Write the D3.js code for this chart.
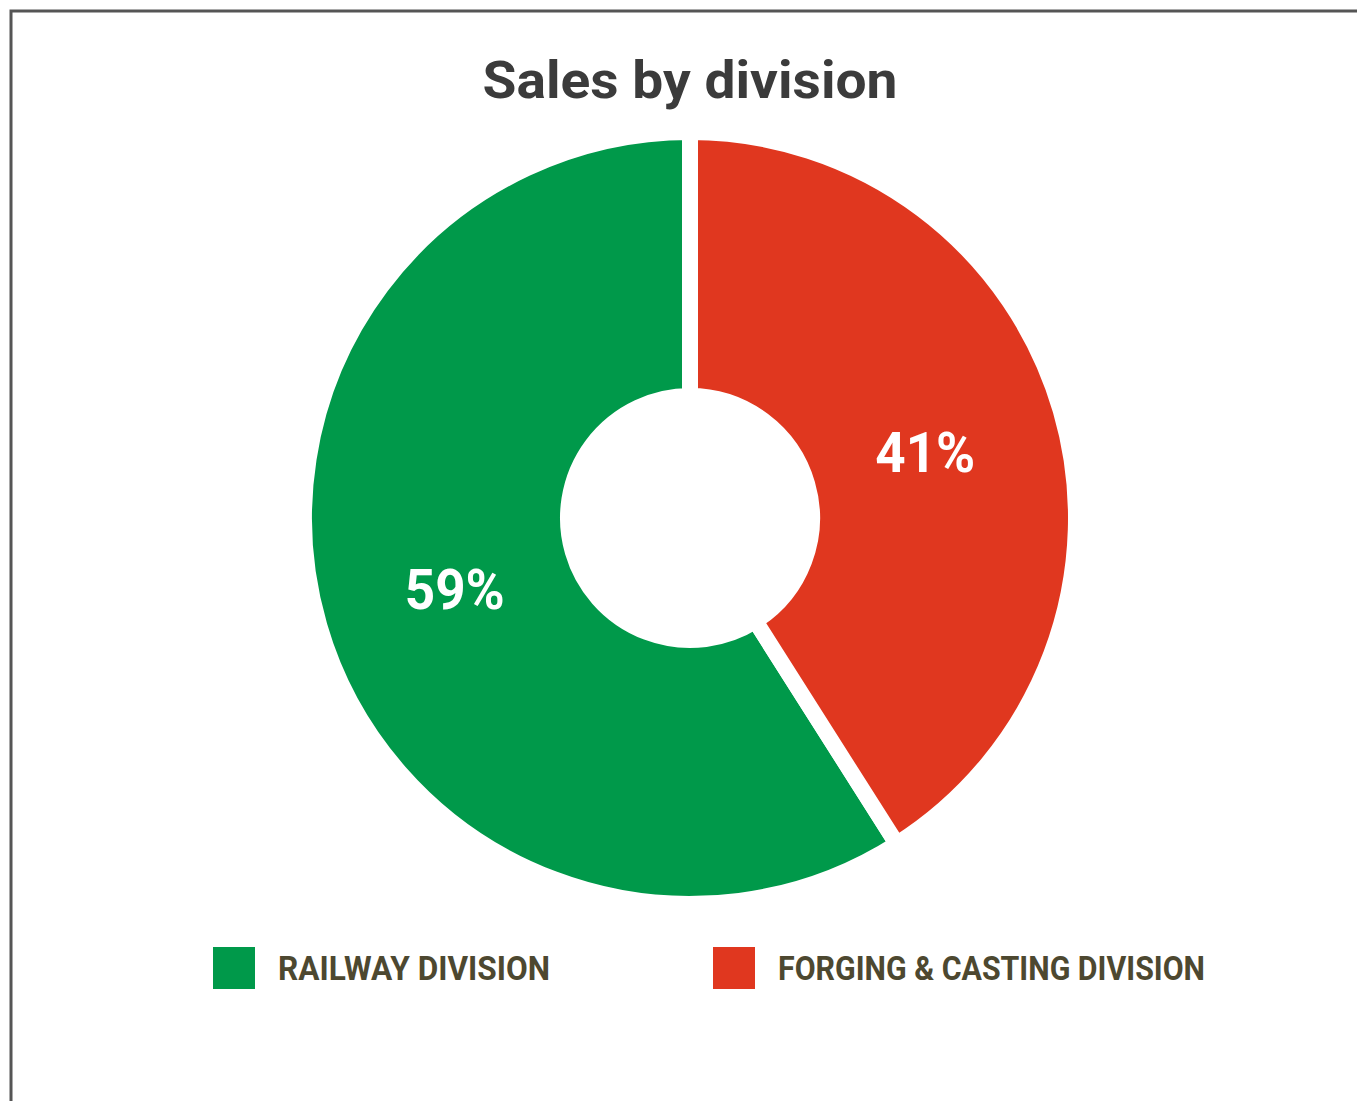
<!DOCTYPE html>
<html><head><meta charset="utf-8">
<script src="https://cdn.jsdelivr.net/npm/d3@7"></script>
<style>html,body{margin:0;padding:0;background:#fff;overflow:hidden}</style>
</head><body>
<svg id="chart" width="1357" height="1101"></svg>
<script>
const categories = ["RAILWAY DIVISION", "FORGING & CASTING DIVISION"];
const values = [59, 41];
const labels = ["59%", "41%"];
const colors = ["#00994a", "#e0371f"];
const title = "Sales by division";

const svg = d3.select("#chart");
const W = 1357, H = 1101;
svg.append("rect").attr("width", W).attr("height", H).attr("fill", "#fff");
// frame
svg.append("path").attr("d", `M11,${H} L11,11 L${W},11`).attr("fill","none").attr("stroke","#555").attr("stroke-width",3);

svg.append("text").attr("x", 690).attr("y", 98).attr("text-anchor","middle")
  .attr("font-family","Roboto, sans-serif").attr("font-weight",700).attr("font-size",52)
  .attr("fill","#3b3b3b").attr("textLength",415).attr("lengthAdjust","spacingAndGlyphs").text(title);

const cx = 690, cy = 518, R = 386, r = 122;
const total = d3.sum(values);
const pie = d3.pie().sort(null).value(d => d)
  .startAngle(-2*Math.PI*values[0]/total).endAngle(2*Math.PI*values[1]/total);
const arcs = pie(values);
const arc = d3.arc().innerRadius(r).outerRadius(R);
const labelArc = d3.arc().innerRadius(245).outerRadius(245);
const g = svg.append("g").attr("transform", `translate(${cx},${cy})`);
g.selectAll("path").data(arcs).join("path")
  .attr("d", arc).attr("fill", (d,i) => colors[i])
  .attr("stroke","#fff").attr("stroke-width",16).attr("stroke-linejoin","miter");
g.selectAll("text").data(arcs).join("text")
  .attr("transform", d => `translate(${labelArc.centroid(d)})`)
  .attr("text-anchor","middle").attr("dy","0.4em")
  .attr("font-family","Roboto, sans-serif").attr("font-weight",700).attr("font-size",56)
  .attr("fill","#fff").attr("textLength",100).attr("lengthAdjust","spacingAndGlyphs")
  .text((d,i) => labels[i]);

// legend
const legX = [213, 713];
const legW = [272, 427];
const lg = svg.append("g");
categories.forEach((c,i) => {
  lg.append("rect").attr("x", legX[i]).attr("y", 947).attr("width", 42).attr("height", 42).attr("fill", colors[i]);
  lg.append("text").attr("x", legX[i] + 65).attr("y", 980)
    .attr("font-family","Roboto, sans-serif").attr("font-weight",700).attr("font-size",34)
    .attr("fill","#4d4830").attr("textLength", legW[i]).attr("lengthAdjust","spacingAndGlyphs").text(c);
});
</script>
</body></html>
